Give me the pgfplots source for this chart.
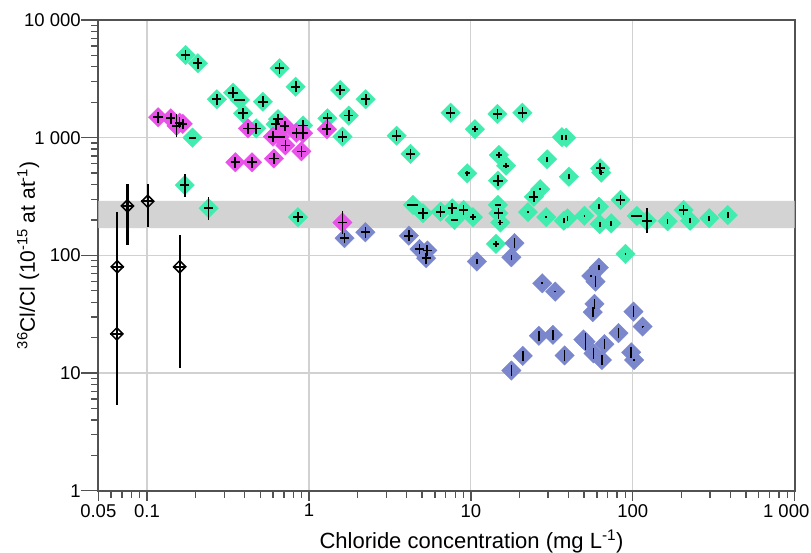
\documentclass[border=0pt]{standalone}
\usepackage{pgfplots}
\pgfplotsset{compat=1.18}
\usepackage{pgfplotstable}
\usepackage{fontspec}
\setmainfont{Liberation Sans}
\definecolor{cgreen}{RGB}{64,237,175}
\definecolor{cmag}{RGB}{232,82,232}
\definecolor{cblue}{RGB}{122,135,205}
\definecolor{cband}{RGB}{211,211,211}

% ---------- diamonds ----------
\pgfplotstableread{
x y
0.173 5040
0.206 4290
0.270 2120
0.340 2410
0.374 2090
0.392 1610
0.520 2020
0.659 3890
0.828 2710
0.473 1200
0.644 1440
0.623 1300
0.920 1270
0.191 1000
0.171 396
0.240 251
0.855 211
1.56 2540
2.24 2120
1.30 1460
1.76 1540
1.61 1020
3.48 1040
4.24 728
7.5 1630
10.6 1180
14.6 1590
20.8 1630
36.5 1010
38.8 1000
14.9 713
16.5 578
29.6 655
9.5 498
14.7 431
40.3 466
62.9 549
63.9 505
26.8 365
24.5 315
84 296
4.39 268
5.06 228
6.5 235
7.67 251
9.02 243
7.93 200
10.3 211
14.7 268
14.8 228
15.2 190
14.3 125
22.5 233
29.2 211
37.5 197
39.5 206
50.3 217
61.7 259
62.5 184
73.6 187
106 216
122 197
164 195
206 243
226 197
297 207
386 220
90.2 103
}\greendata

\pgfplotstableread{
x y
0.117 1490
0.140 1460
0.152 1260
0.159 1340
0.166 1310
0.420 1200
0.708 1260
0.920 1090
0.836 1100
0.600 1020
0.660 1020
0.715 860
0.898 765
0.608 665
0.351 618
0.445 618
1.29 1180
1.61 190
}\magdata

\pgfplotstableread{
x y
1.66 140
2.23 157
4.14 147
4.82 113
5.38 110
5.30 94.5
18.6 127
17.8 96.4
10.9 88.6
27.6 57.9
33.2 49.2
61.7 78.6
55.4 66.8
58.9 59.8
58.0 38.7
56.6 32.9
101 33.3
115 24.8
26.3 20.7
32.1 21.1
81.6 21.8
49.5 19.3
51.1 18.5
57.2 14.7
66.8 17.6
64.4 12.9
37.9 14.1
97.8 15.0
102 12.9
20.9 14.0
17.8 10.5
}\bluedata

\pgfplotstableread{
x y eyp eym
0.0654 80 154 60
0.0651 21.5 150 16.1
0.0757 263 140 140
0.101 288 115 115
0.159 80 69 69
}\blackdata

% ---------- error crosses, grouped by size ----------
\pgfplotstableread{
x y
0.173 5040
0.206 4290
0.270 2120
0.340 2410
0.392 1610
0.520 2020
0.659 3890
0.828 2710
0.473 1200
0.644 1440
0.623 1300
0.920 1270
0.855 211
1.56 2540
2.24 2120
1.30 1460
1.76 1540
1.61 1020
3.48 1040
4.24 728
7.5 1630
14.6 1590
20.8 1630
14.7 431
62.9 549
24.5 315
84 296
5.06 228
6.5 235
7.67 251
9.02 243
14.8 228
206 243
0.117 1490
0.140 1460
0.159 1340
0.166 1310
0.420 1200
0.708 1260
0.920 1090
0.836 1100
0.600 1020
0.715 860
0.898 765
0.608 665
0.351 618
0.445 618
1.29 1180
1.66 140
2.23 157
4.14 147
4.82 113
5.38 110
5.30 94.5
}\cPdata
\pgfplotstableread{
x y
0.171 396
0.240 251
0.152 1260
1.61 190
}\cTdata
\pgfplotstableread{
x y
122 197
}\cBdata
\pgfplotstableread{
x y
0.374 2090
4.39 268
106 216
0.660 1020
}\cMdata
\pgfplotstableread{
x y
0.191 1000
7.93 200
14.7 268
}\cMsdata
\pgfplotstableread{
x y
26.8 365
22.5 233
29.2 211
50.3 217
90.2 103
27.6 57.9
33.2 49.2
55.4 66.8
115 24.8
102 12.9
}\cDdata
\pgfplotstableread{
x y
10.6 1180
14.9 713
16.5 578
9.5 498
63.9 505
10.3 211
15.2 190
14.3 125
}\cSPdata
\pgfplotstableread{
x y
36.5 1010
38.8 1000
29.6 655
40.3 466
37.5 197
39.5 206
61.7 259
62.5 184
73.6 187
164 195
226 197
297 207
386 220
17.8 96.4
10.9 88.6
61.7 78.6
}\cVSdata
\pgfplotstableread{
x y
18.6 127
58.9 59.8
58.0 38.7
56.6 32.9
101 33.3
26.3 20.7
32.1 21.1
81.6 21.8
57.2 14.7
66.8 17.6
64.4 12.9
37.9 14.1
97.8 15.0
20.9 14.0
17.8 10.5
}\cVLdata
\pgfplotstableread{
x y
51.1 18.5
}\cVXLdata

\newcommand\defcross[3]{%
  \pgfdeclareplotmark{#1}{%
    \pgfpathmoveto{\pgfqpoint{-#2pt}{0pt}}\pgfpathlineto{\pgfqpoint{#2pt}{0pt}}%
    \pgfpathmoveto{\pgfqpoint{0pt}{-#3pt}}\pgfpathlineto{\pgfqpoint{0pt}{#3pt}}%
    \pgfusepathqstroke}}
\defcross{cP}{4.6}{5.3}
\defcross{cT}{4.4}{11.5}
\defcross{cB}{4.8}{12.5}
\defcross{cM}{5.5}{0}
\defcross{cMs}{3.2}{0.4}
\defcross{cD}{0.9}{0.9}
\defcross{cSP}{2.6}{2.8}
\defcross{cVS}{0.4}{2.6}
\defcross{cVL}{0.1}{5.2}
\defcross{cVXL}{0.1}{8.5}
\defcross{cH}{6.5}{0}

\pgfplotsset{
  dia/.style={only marks, mark=square*, mark size=6.9pt,
    mark options={rotate=45, draw=#1, fill=#1, line width=0.3pt}},
  crs/.style={only marks, forget plot, mark=#1,
    mark options={draw=black, line width=1.7pt, line cap=butt}},
}

\begin{document}
\begin{tikzpicture}
\begin{axis}[
  name=ax,
  scale only axis, width=696.4pt, height=470.7pt,
  xmode=log, ymode=log,
  xmin=0.05, xmax=1000, ymin=1, ymax=10000,
  xtick={0.05,0.1,1,10,100,1000},
  xticklabels={0.05,0.1,1,10,100,1 000\hspace*{17pt}},
  minor xtick={0.06,0.07,0.08,0.09,0.2,0.3,0.4,0.5,0.6,0.7,0.8,0.9,2,3,4,5,6,7,8,9,20,30,40,50,60,70,80,90,200,300,400,500,600,700,800,900},
  ytick={1,10,100,1000,10000},
  yticklabels={1,10,100,1 000,10 000},
  minor ytick={2,3,4,5,6,7,8,9,20,30,40,50,60,70,80,90,200,300,400,500,600,700,800,900,2000,3000,4000,5000,6000,7000,8000,9000},
  extra y ticks={1,10,100,1000,10000},
  extra y tick labels={},
  extra y tick style={major tick length=17pt, grid=none},
  tick align=outside,
  xtick pos=bottom, ytick pos=left,
  major tick length=10pt, minor tick length=7pt,
  grid=major,
  major grid style={draw=black!18, line width=1.2pt},
  axis line style={draw=black!68, line width=1.6pt},
  tick style={draw=black!68, line width=1.3pt},
  tick label style={font=\fontsize{18.5}{20}\selectfont},
  yticklabel style={xshift=-4pt},
  xlabel={Chloride concentration (mg L\textsuperscript{-1})},
  ylabel={\textsuperscript{36}Cl/Cl (10\textsuperscript{-15} at at\textsuperscript{-1})},
  xlabel style={font=\fontsize{22}{24}\selectfont, at={(axis description cs:0.536,-0.1224)}, anchor=base},
  ylabel style={font=\fontsize{21}{23}\selectfont, at={(axis description cs:-0.0909,0.5)}, anchor=base},
]
\addplot[fill=cband, draw=none, forget plot] coordinates {(0.05,170) (1000,170) (1000,290) (0.05,290) (0.05,170)};

\addplot[dia=cgreen] table[x=x,y=y]{\greendata};
\addplot[dia=cblue] table[x=x,y=y]{\bluedata};
\addplot[dia=cmag] table[x=x,y=y]{\magdata};

\addplot[crs=cP] table[x=x,y=y]{\cPdata};
\addplot[crs=cT] table[x=x,y=y]{\cTdata};
\addplot[crs=cB] table[x=x,y=y]{\cBdata};
\addplot[crs=cM] table[x=x,y=y]{\cMdata};
\addplot[crs=cMs] table[x=x,y=y]{\cMsdata};
\addplot[crs=cD] table[x=x,y=y]{\cDdata};
\addplot[crs=cSP] table[x=x,y=y]{\cSPdata};
\addplot[crs=cVS] table[x=x,y=y]{\cVSdata};
\addplot[crs=cVL] table[x=x,y=y]{\cVLdata};
\addplot[crs=cVXL] table[x=x,y=y]{\cVXLdata};

\addplot[only marks, mark=square, mark size=4.3pt,
  mark options={rotate=45, draw=black, line width=1.5pt},
  error bars/.cd, y dir=both, y explicit,
  error mark=none, error bar style={draw=black, line width=2.1pt, line cap=butt}]
  table[x=x,y=y,y error plus=eyp,y error minus=eym]{\blackdata};
\addplot[crs=cH] table[x=x,y=y]{\blackdata};
\end{axis}
\pgfresetboundingbox
\path (ax.south west) ++(-98.3pt,-61.3pt) rectangle ++(811pt,552pt);
\end{tikzpicture}
\end{document}
